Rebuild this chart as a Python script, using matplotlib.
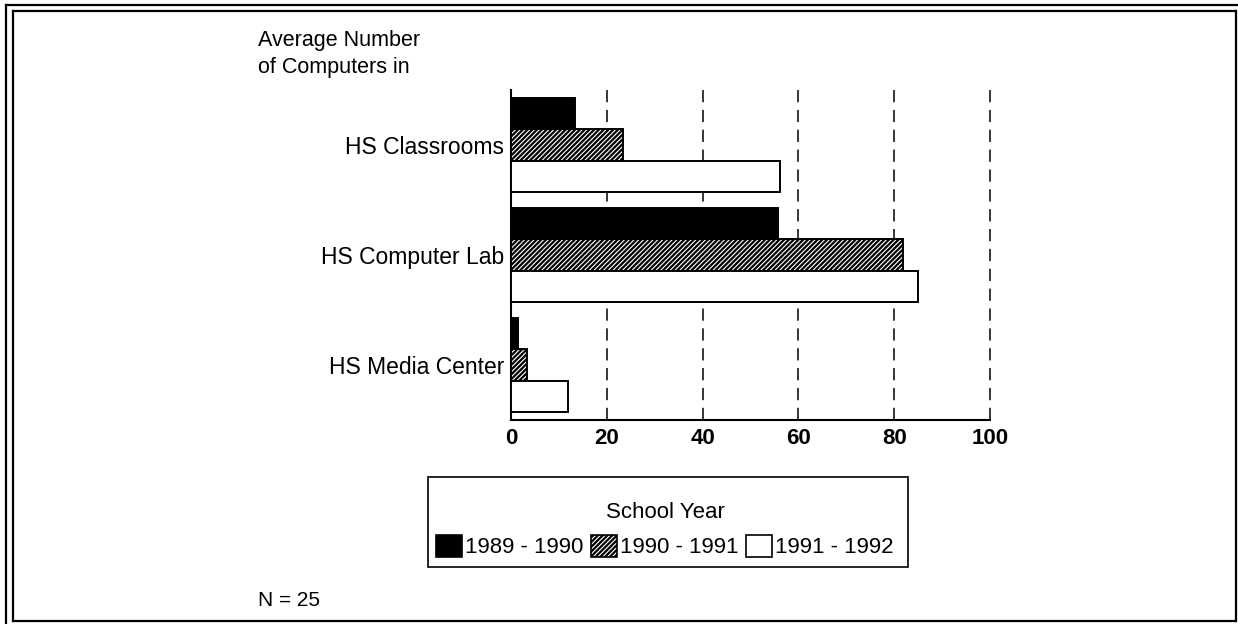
import matplotlib
matplotlib.use("Agg")
import matplotlib.pyplot as plt
from matplotlib.patches import Rectangle, Patch
from matplotlib.lines import Line2D
import numpy as np

# dados
categorias = ["HS Classrooms", "HS Computer Lab", "HS Media Center"]
anos = ["1989 - 1990", "1990 - 1991", "1991 - 1992"]
media_1989 = [13.4, 55.8, 1.4]
media_1990 = [23.3, 81.9, 3.3]
media_1991 = [56.2, 85.0, 11.8]
xticks = [0, 20, 40, 60, 80, 100]

W, H = 1238, 624
plt.rcParams["font.family"] = ["Liberation Sans", "DejaVu Sans"]
plt.rcParams["hatch.linewidth"] = 1.6

fig = plt.figure(figsize=(W / 100, H / 100), dpi=100)
fig.patch.set_facecolor("white")


def fx(px):
    return px / W


def fy(py):
    return 1 - py / H


ax = fig.add_axes([fx(511), fy(420), fx(990) - fx(511), fy(90) - fy(420)])

y = np.arange(len(categorias))
h = 0.285
estilos = [
    dict(facecolor="black", edgecolor="black"),
    dict(facecolor="white", edgecolor="black", hatch="///////"),
    dict(facecolor="white", edgecolor="black"),
]
series = [media_1989, media_1990, media_1991]
for i, (vals, est) in enumerate(zip(series, estilos)):
    ax.barh(y + (i - 1) * h, vals, height=h, linewidth=1.4, zorder=3, **est)

ax.set_xlim(0, 100)
ax.set_ylim(2.5, -0.5)
ax.set_xticks(xticks)
ax.set_xticklabels([str(t) for t in xticks], fontsize=16, fontweight="bold")
ax.set_yticks(y)
ax.set_yticklabels(categorias, fontsize=16.5)
ax.tick_params(axis="x", length=0, pad=6)
ax.tick_params(axis="y", length=0, pad=5)

ax.xaxis.grid(True, color="black", linestyle=(0, (8, 5)), linewidth=1.1, zorder=0)
ax.set_axisbelow(True)
for gl in ax.get_xgridlines():
    gl.set_clip_on(False)
for s in ["top", "right"]:
    ax.spines[s].set_visible(False)
ax.spines["left"].set_linewidth(1.5)
ax.spines["bottom"].set_linewidth(1.5)

# titulo do eixo
fig.text(fx(258), fy(54), "Average Number\nof Computers in", fontsize=15.5,
         ha="left", va="center", linespacing=1.35)

# legenda
handles = [Patch(linewidth=1.2, **est) for est in estilos]
leg = fig.legend(handles, anos, loc="center", ncol=3, title="School Year",
                 bbox_to_anchor=(fx(665), fy(530)), frameon=False, fontsize=16,
                 title_fontsize=16, handlelength=1.15, handleheight=1.15,
                 handletextpad=0.15, columnspacing=0.35, labelspacing=0.55)

fig.add_artist(Rectangle((fx(428), fy(567)), fx(908) - fx(428), fy(477) - fy(567),
                         transform=fig.transFigure, fill=False, edgecolor="black",
                         linewidth=1.2))

fig.text(fx(258), fy(600), "N = 25", fontsize=15, ha="left", va="center")

# moldura dupla
moldura = [
    ((6, 1238), (5, 5)),
    ((6, 6), (5, 624)),
    ((13, 1236), (11, 11)),
    ((13, 13), (11, 621)),
    ((1236, 1236), (11, 621)),
    ((13, 1236), (621, 621)),
]
for xs, ys in moldura:
    fig.add_artist(Line2D([fx(v) for v in xs], [fy(v) for v in ys],
                          transform=fig.transFigure, color="black", linewidth=1.6))

fig.savefig("out.png", dpi=100)
